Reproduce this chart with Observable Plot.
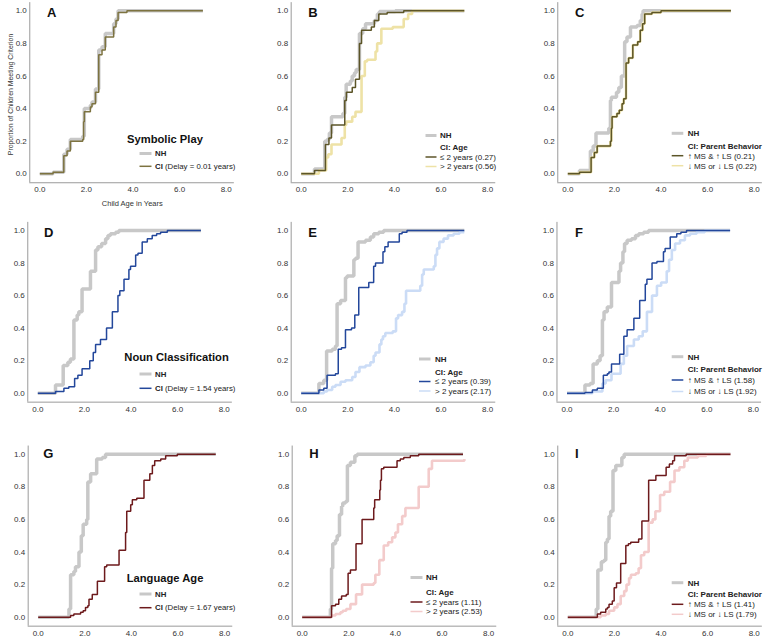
<!DOCTYPE html>
<html><head><meta charset="utf-8">
<script src="https://cdn.jsdelivr.net/npm/d3@7"></script>
<script src="https://cdn.jsdelivr.net/npm/@observablehq/plot@0.6"></script>
<style>
body{margin:0;background:#fff;}
#chart{position:relative;width:763px;height:637px;overflow:hidden;background:#fff;font-family:"Liberation Sans",Arial,sans-serif;}
#chart svg.panel{position:absolute;}
#overlay{position:absolute;left:0;top:0;pointer-events:none;}
</style></head><body><div id="chart"></div>
<script>
// ---------- data ----------
const xTicks = [0, 2, 4, 6, 8];
const yTicks = [0, 0.2, 0.4, 0.6, 0.8, 1.0];

const A_NH_x = [0, 0.57, 1.03, 1.17, 1.31, 1.84, 1.91, 2.17, 2.24, 2.39, 2.53, 2.67, 2.81, 3.17, 3.27, 3.36, 3.74, 7.0];
const A_NH_y = [0, 0.01, 0.12, 0.15, 0.21, 0.23, 0.40, 0.42, 0.44, 0.52, 0.76, 0.78, 0.86, 0.92, 0.95, 1.0, 1.0, 1.0];
const A_CI_x = [0, 0.57, 1.03, 1.17, 1.31, 1.84, 1.88, 1.91, 2.17, 2.24, 2.39, 2.53, 2.67, 2.81, 3.17, 3.27, 3.36, 3.74, 7.0];
const A_CI_y = [0, 0.01, 0.11, 0.14, 0.20, 0.21, 0.32, 0.38, 0.41, 0.43, 0.50, 0.73, 0.76, 0.84, 0.90, 0.94, 0.99, 1.0, 1.0];

const B_NH_x = [0, 0.57, 1.01, 1.11, 1.21, 1.30, 1.79, 1.87, 1.93, 2.11, 2.19, 2.29, 2.36, 2.50, 2.64, 2.76, 3.14, 3.27, 3.36, 4.04, 7.0];
const B_NH_y = [0, 0.03, 0.20, 0.21, 0.25, 0.35, 0.37, 0.47, 0.55, 0.57, 0.60, 0.62, 0.64, 0.86, 0.89, 0.92, 0.94, 0.98, 0.995, 1.0, 1.0];
const B_CI1_x = [0, 0.57, 1.04, 1.19, 1.30, 1.87, 1.94, 2.19, 2.33, 2.50, 2.59, 3.01, 3.14, 3.33, 3.69, 4.40, 7.0];
const B_CI1_y = [0, 0.02, 0.18, 0.22, 0.30, 0.45, 0.50, 0.53, 0.58, 0.80, 0.88, 0.90, 0.94, 0.98, 0.99, 1.0, 1.0];
const B_CI2_x = [0, 0.76, 1.07, 1.16, 1.30, 1.73, 1.87, 1.93, 2.19, 2.33, 2.59, 2.73, 2.83, 3.19, 3.26, 3.44, 3.93, 4.40, 4.59, 4.76, 7.0];
const B_CI2_y = [0, 0.02, 0.10, 0.12, 0.18, 0.22, 0.30, 0.32, 0.35, 0.38, 0.60, 0.69, 0.70, 0.75, 0.80, 0.89, 0.90, 0.95, 0.98, 1.0, 1.0];

const C_NH_x = [0, 0.50, 0.97, 1.09, 1.21, 1.76, 1.83, 1.87, 2.09, 2.19, 2.30, 2.44, 2.54, 2.69, 2.97, 3.11, 3.19, 3.23, 7.0];
const C_NH_y = [0, 0.02, 0.14, 0.17, 0.25, 0.28, 0.45, 0.47, 0.50, 0.53, 0.60, 0.81, 0.84, 0.90, 0.91, 0.94, 0.98, 1.0, 1.0];
const C_CI1_x = [0, 0.50, 1.00, 1.14, 1.26, 1.83, 1.87, 1.90, 2.11, 2.21, 2.33, 2.40, 2.50, 2.61, 2.79, 3.00, 3.11, 3.21, 3.30, 3.61, 4.00, 7.0];
const C_CI1_y = [0, 0.01, 0.10, 0.13, 0.17, 0.20, 0.28, 0.35, 0.37, 0.39, 0.43, 0.46, 0.68, 0.71, 0.79, 0.81, 0.88, 0.92, 0.98, 0.99, 1.0, 1.0];
const C_CI2_x = [0, 0.50, 1.00, 1.14, 1.26, 1.83, 1.87, 1.90, 2.11, 2.21, 2.33, 2.40, 2.50, 2.61, 2.79, 3.00, 3.11, 3.21, 3.30, 3.61, 4.00, 7.0];
const C_CI2_y = [0, 0.01, 0.10, 0.13, 0.17, 0.20, 0.28, 0.35, 0.37, 0.39, 0.43, 0.46, 0.68, 0.71, 0.79, 0.81, 0.88, 0.92, 0.98, 0.99, 1.0, 1.0];

const D_NH_x = [0, 0.76, 1.09, 1.29, 1.40, 1.55, 1.69, 1.76, 1.90, 2.26, 2.48, 2.58, 2.74, 2.91, 3.01, 3.12, 3.34, 3.48, 7.0];
const D_NH_y = [0, 0.05, 0.17, 0.19, 0.21, 0.45, 0.48, 0.50, 0.64, 0.75, 0.88, 0.90, 0.92, 0.95, 0.97, 0.98, 0.99, 1.0, 1.0];
const D_CI_x = [0, 0.76, 1.12, 1.33, 1.58, 1.72, 1.90, 2.23, 2.38, 2.48, 2.69, 2.95, 3.20, 3.44, 3.52, 3.70, 3.91, 3.98, 4.20, 4.30, 4.48, 4.70, 4.91, 5.10, 5.27, 5.56, 7.0];
const D_CI_y = [0, 0.01, 0.03, 0.04, 0.09, 0.11, 0.15, 0.20, 0.25, 0.30, 0.33, 0.40, 0.50, 0.60, 0.63, 0.70, 0.76, 0.78, 0.85, 0.86, 0.93, 0.95, 0.97, 0.98, 0.99, 1.0, 1.0];

const E_NH_x = [0, 0.76, 0.97, 1.09, 1.33, 1.47, 1.54, 1.69, 1.90, 1.97, 2.26, 2.33, 2.44, 2.76, 2.97, 3.11, 3.33, 3.54, 7.0];
const E_NH_y = [0, 0.06, 0.08, 0.26, 0.27, 0.29, 0.55, 0.57, 0.71, 0.72, 0.82, 0.83, 0.93, 0.94, 0.96, 0.98, 0.99, 1.0, 1.0];
const E_CI1_x = [0, 0.76, 0.97, 1.11, 1.47, 1.59, 1.73, 1.90, 2.16, 2.30, 2.47, 2.90, 3.11, 3.19, 3.51, 3.59, 3.73, 4.21, 4.33, 4.54, 7.0];
const E_CI1_y = [0, 0.02, 0.03, 0.11, 0.12, 0.27, 0.28, 0.39, 0.40, 0.48, 0.65, 0.68, 0.78, 0.80, 0.87, 0.90, 0.93, 0.98, 0.99, 1.0, 1.0];
const E_CI2_x = [0, 0.97, 1.11, 1.33, 1.47, 1.69, 1.90, 2.19, 2.33, 2.50, 2.76, 2.97, 3.11, 3.19, 3.36, 3.44, 3.51, 3.61, 3.93, 4.07, 4.16, 4.33, 4.43, 4.50, 5.11, 5.19, 5.26, 5.69, 5.76, 5.83, 5.93, 6.11, 6.30, 6.54, 6.79, 7.0];
const E_CI2_y = [0, 0.01, 0.02, 0.04, 0.05, 0.07, 0.08, 0.10, 0.13, 0.16, 0.17, 0.19, 0.23, 0.25, 0.30, 0.33, 0.35, 0.37, 0.38, 0.46, 0.48, 0.50, 0.55, 0.63, 0.66, 0.73, 0.76, 0.78, 0.85, 0.89, 0.93, 0.95, 0.97, 0.98, 0.99, 0.99];

const F_NH_x = [0, 0.77, 0.99, 1.12, 1.30, 1.42, 1.52, 1.59, 1.73, 1.91, 2.23, 2.30, 2.40, 2.47, 2.58, 2.77, 2.94, 3.08, 3.29, 3.50, 7.0];
const F_NH_y = [0, 0.05, 0.06, 0.18, 0.20, 0.23, 0.45, 0.50, 0.53, 0.68, 0.75, 0.80, 0.87, 0.92, 0.94, 0.95, 0.97, 0.98, 0.99, 1.0, 1.0];
const F_CI1_x = [0, 0.77, 1.09, 1.30, 1.56, 1.73, 1.80, 1.91, 2.26, 2.44, 2.58, 2.87, 3.12, 3.36, 3.43, 3.65, 3.86, 4.14, 4.21, 4.43, 4.71, 4.89, 5.13, 7.0];
const F_CI1_y = [0, 0.005, 0.02, 0.03, 0.11, 0.12, 0.13, 0.18, 0.24, 0.35, 0.39, 0.46, 0.57, 0.67, 0.70, 0.80, 0.81, 0.87, 0.89, 0.96, 0.98, 0.99, 1.0, 1.0];
const F_CI2_x = [0, 1.09, 1.52, 1.66, 1.91, 2.30, 2.44, 2.58, 2.87, 3.08, 3.25, 3.43, 3.65, 3.86, 4.04, 4.28, 4.38, 4.50, 4.64, 4.85, 5.06, 5.28, 5.56, 5.91, 7.0];
const F_CI2_y = [0, 0.01, 0.06, 0.08, 0.12, 0.18, 0.23, 0.29, 0.33, 0.35, 0.38, 0.50, 0.60, 0.66, 0.68, 0.75, 0.82, 0.88, 0.92, 0.94, 0.97, 0.98, 0.99, 1.0, 1.0];

const G_NH_x = [0, 1.32, 1.39, 1.53, 1.60, 1.75, 1.85, 1.93, 2.08, 2.13, 2.25, 2.51, 2.75, 2.89, 7.62];
const G_NH_y = [0, 0.05, 0.26, 0.28, 0.31, 0.40, 0.50, 0.57, 0.60, 0.83, 0.88, 0.97, 0.98, 1.0, 1.0];
const G_CI_x = [0, 1.39, 1.53, 1.82, 1.93, 2.03, 2.13, 2.18, 2.32, 2.54, 2.85, 2.94, 3.47, 3.75, 3.80, 3.97, 4.04, 4.23, 4.54, 4.79, 4.90, 5.00, 5.26, 5.47, 5.97, 7.62];
const G_CI_y = [0, 0.01, 0.02, 0.03, 0.04, 0.06, 0.07, 0.11, 0.14, 0.22, 0.31, 0.32, 0.41, 0.52, 0.65, 0.69, 0.72, 0.73, 0.84, 0.88, 0.93, 0.96, 0.97, 0.99, 1.0, 1.0];

const H_NH_x = [0, 1.21, 1.26, 1.31, 1.43, 1.50, 1.60, 1.69, 1.74, 1.86, 1.94, 2.07, 2.26, 2.36, 6.9];
const H_NH_y = [0, 0.05, 0.30, 0.45, 0.47, 0.50, 0.63, 0.68, 0.70, 0.71, 0.93, 0.95, 0.99, 1.0, 1.0];
const H_CI1_x = [0, 1.26, 1.43, 1.57, 1.69, 1.89, 1.97, 2.07, 2.31, 2.57, 3.07, 3.11, 3.33, 3.36, 3.40, 3.50, 4.07, 4.21, 4.36, 4.64, 5.00, 6.9];
const H_CI1_y = [0, 0.07, 0.08, 0.11, 0.13, 0.14, 0.27, 0.29, 0.45, 0.60, 0.67, 0.72, 0.78, 0.84, 0.91, 0.92, 0.96, 0.97, 0.98, 0.99, 1.0, 1.0];
const H_CI2_x = [0, 1.26, 1.43, 1.64, 1.74, 1.89, 2.07, 2.31, 2.57, 3.07, 3.14, 3.31, 3.50, 3.69, 3.86, 4.00, 4.11, 4.29, 4.43, 5.00, 5.43, 5.57, 6.96];
const H_CI2_y = [0, 0.01, 0.02, 0.03, 0.04, 0.05, 0.08, 0.14, 0.20, 0.21, 0.26, 0.35, 0.44, 0.46, 0.49, 0.52, 0.57, 0.62, 0.67, 0.80, 0.91, 0.96, 0.97];

const I_NH_x = [0, 1.22, 1.29, 1.44, 1.55, 1.63, 1.70, 1.77, 1.84, 1.94, 2.06, 2.32, 2.42, 6.98];
const I_NH_y = [0, 0.05, 0.29, 0.34, 0.35, 0.46, 0.48, 0.62, 0.65, 0.90, 0.93, 0.98, 1.0, 1.0];
const I_CI1_x = [0, 1.27, 1.41, 1.63, 1.70, 1.77, 1.91, 1.99, 2.09, 2.27, 2.49, 2.60, 2.70, 3.04, 3.18, 3.47, 3.78, 4.22, 4.36, 4.50, 4.58, 5.08, 6.98];
const I_CI1_y = [0, 0.02, 0.03, 0.05, 0.06, 0.08, 0.10, 0.18, 0.21, 0.33, 0.44, 0.45, 0.46, 0.48, 0.59, 0.84, 0.87, 0.92, 0.94, 0.96, 0.99, 1.0, 1.0];
const I_CI2_x = [0, 1.41, 1.63, 1.77, 1.99, 2.13, 2.27, 2.42, 2.52, 2.63, 2.71, 2.92, 3.04, 3.14, 3.28, 3.47, 3.64, 3.76, 3.96, 4.14, 4.39, 4.58, 4.79, 5.00, 5.15, 5.58, 5.94, 6.98];
const I_CI2_y = [0, 0.01, 0.02, 0.04, 0.06, 0.08, 0.13, 0.16, 0.20, 0.24, 0.26, 0.27, 0.30, 0.38, 0.40, 0.58, 0.60, 0.65, 0.75, 0.77, 0.83, 0.90, 0.92, 0.96, 0.98, 0.99, 1.0, 1.0];

// text content
const panelLetters = ["A","B","C","D","E","F","G","H","I"];
const domainTitles = ["Symbolic Play", "Noun Classification", "Language Age"];
const delayLabels = ["(Delay = 0.01 years)", "(Delay = 1.54 years)", "(Delay = 1.67 years)"];
const ageLabels = [["≤ 2 years (0.27)", "> 2 years (0.56)"], ["≤ 2 years (0.39)", "> 2 years (2.17)"], ["≤ 2 years (1.11)", "> 2 years (2.53)"]];
const parentLabels = [["↑ MS &  ↑ LS (0.21)", "↓ MS or ↓ LS  (0.22)"], ["↑ MS &  ↑ LS (1.58)", "↓ MS or ↓ LS (1.92)"], ["↑ MS &  ↑ LS (1.41)", "↓ MS or ↓ LS (1.79)"]];
const yTitle = "Proportion of Children Meeting Criterion";
const xTitle = "Child Age in Years";

// ---------- styles ----------
const GRAY = "#c8c8c8";
const DARK = ["#7d7340", "#23479b", "#6d1a1c"];   // main CI colour per row
const DARK2 = ["#5c5528", "#23479b", "#6d1a1c"];  // ≤2 / ↑ colour
const LIGHT = ["#eee2a6", "#cbdcf6", "#f3cbcb"];
const W_NH = 3.5, W_DARK = 1.5, W_LIGHT = 2.6;

const cols = [{left: 0, width: 255}, {left: 255, width: 250}, {left: 505, width: 258}];
const rows = [{top: 0, height: 210, y1: 10.3, y0: 173.3}, {top: 210, height: 210, y1: 230, y0: 392.7}, {top: 420, height: 217, y1: 453.7, y0: 616.7}];
const x0px = [[39.3, 300.7, 567.3], [37.3, 300.7, 566.5], [37.7, 301.7, 567.3]];
const U = 23.3;
const XD = [-0.43, 8.35], YD = [-0.055, 1.05];

const series = [
  [[[A_NH_x, A_NH_y, GRAY, W_NH], [A_CI_x, A_CI_y, DARK[0], W_DARK]],
   [[B_NH_x, B_NH_y, GRAY, W_NH], [B_CI2_x, B_CI2_y, LIGHT[0], W_LIGHT], [B_CI1_x, B_CI1_y, DARK2[0], W_DARK]],
   [[C_NH_x, C_NH_y, GRAY, W_NH], [C_CI2_x, C_CI2_y, LIGHT[0], W_LIGHT], [C_CI1_x, C_CI1_y, DARK2[0], W_DARK]]],
  [[[D_NH_x, D_NH_y, GRAY, W_NH], [D_CI_x, D_CI_y, DARK[1], W_DARK]],
   [[E_NH_x, E_NH_y, GRAY, W_NH], [E_CI2_x, E_CI2_y, LIGHT[1], W_LIGHT], [E_CI1_x, E_CI1_y, DARK2[1], W_DARK]],
   [[F_NH_x, F_NH_y, GRAY, W_NH], [F_CI2_x, F_CI2_y, LIGHT[1], W_LIGHT], [F_CI1_x, F_CI1_y, DARK2[1], W_DARK]]],
  [[[G_NH_x, G_NH_y, GRAY, W_NH], [G_CI_x, G_CI_y, DARK[2], W_DARK]],
   [[H_NH_x, H_NH_y, GRAY, W_NH], [H_CI2_x, H_CI2_y, LIGHT[2], W_LIGHT], [H_CI1_x, H_CI1_y, DARK2[2], W_DARK]],
   [[I_NH_x, I_NH_y, GRAY, W_NH], [I_CI2_x, I_CI2_y, LIGHT[2], W_LIGHT], [I_CI1_x, I_CI1_y, DARK2[2], W_DARK]]]
];

const chart = document.getElementById("chart");
const fmt = d3.format(".1f");

for (let r = 0; r < 3; r++) {
  for (let c = 0; c < 3; c++) {
    const col = cols[c], row = rows[r];
    const ml = x0px[r][c] + XD[0] * U - col.left;
    const mr = col.width - ml - (XD[1] - XD[0]) * U;
    const k = row.y0 - row.y1;
    const yTop = row.y1 - (YD[1] - 1) * k, yBot = row.y0 - YD[0] * k;
    const mt = yTop - row.top, mb = row.height - (yBot - row.top);
    const marks = [
      Plot.ruleX([XD[0]], {stroke: "#9a9a9a", strokeWidth: 1}),
      Plot.ruleY([YD[0]], {stroke: "#9a9a9a", strokeWidth: 1}),
      Plot.axisX(xTicks, {tickSize: 0, tickPadding: 4, tickFormat: fmt, label: null, fontSize: 8, fill: "#333"}),
      Plot.axisY(yTicks, {tickSize: 0, tickPadding: 3, tickFormat: fmt, label: null, fontSize: 8, fill: "#333"})
    ];
    for (const [xs, ys, color, w] of series[r][c]) {
      const data = xs.map((x, i) => ({x, y: ys[i]}));
      marks.push(Plot.line(data, {x: "x", y: "y", curve: "step-after", stroke: color, strokeWidth: w, strokeLinejoin: "miter", strokeLinecap: "butt"}));
    }
    const svg = Plot.plot({
      width: col.width, height: row.height,
      marginLeft: ml, marginRight: mr, marginTop: mt, marginBottom: mb,
      x: {domain: XD}, y: {domain: YD},
      style: {fontFamily: "'Liberation Sans', Arial, sans-serif", fontSize: "8px", background: "transparent", overflow: "visible"},
      marks
    });
    svg.classList.add("panel");
    svg.style.left = col.left + "px";
    svg.style.top = row.top + "px";
    chart.appendChild(svg);
  }
}

// ---------- overlay: panel letters, titles, legends ----------
const ov = d3.select(chart).append("svg").attr("id", "overlay").attr("width", 763).attr("height", 637)
  .style("font-family", "'Liberation Sans', Arial, sans-serif");
const TXT = "#222";

const letterPos = [[47, 17.3], [308.3, 17.3], [575, 17.3], [44, 237.3], [308.3, 237.3], [575, 237], [43.3, 457.7], [309.3, 457.7], [575, 457.7]];
panelLetters.forEach((L, i) => {
  ov.append("text").attr("x", letterPos[i][0]).attr("y", letterPos[i][1]).attr("font-size", 13).attr("font-weight", "bold").attr("fill", "#111").text(L);
});

// axis titles (panel A only)
ov.append("text").attr("transform", "translate(12.5,94.5) rotate(-90)").attr("text-anchor", "middle").attr("font-size", 6.9).attr("fill", "#333").text(yTitle);
ov.append("text").attr("x", 132.3).attr("y", 206).attr("text-anchor", "middle").attr("font-size", 7.5).attr("fill", "#333").text(xTitle);

function legLine(x1, x2, y, color, w) {
  ov.append("line").attr("x1", x1).attr("x2", x2).attr("y1", y).attr("y2", y).attr("stroke", color).attr("stroke-width", w);
}
function legText(x, y, parts, size) {
  const t = ov.append("text").attr("x", x).attr("y", y + size * 0.35).attr("font-size", size).attr("fill", TXT);
  for (const [s, bold] of parts) t.append("tspan").attr("font-weight", bold ? "bold" : "normal").text(s);
}

// column 1 legends
const col1 = [{title: [127, 143.3], nh: 153.5, ci: 166.3}, {title: [124.3, 360.7], nh: 374, ci: 388.3}, {title: [126.7, 581.7], nh: 594, ci: 607.7}];
col1.forEach((L, r) => {
  ov.append("text").attr("x", L.title[0]).attr("y", L.title[1]).attr("font-size", 11.2).attr("font-weight", "bold").attr("fill", "#111").text(domainTitles[r]);
  legLine(139.5, 151.5, L.nh, GRAY, 3);
  legText(155, L.nh, [["NH", true]], 7.8);
  legLine(139.5, 151.5, L.ci, DARK[r], 1.5);
  legText(155, L.ci, [["CI", true], [" " + delayLabels[r], false]], 7.8);
});

// columns 2 and 3 legends
const col2 = [{x1: 425.5, x2: 436.5, tx: 440, ys: [135.5, 147.5, 157, 166.5]},
              {x1: 419, x2: 430.5, tx: 435, ys: [359, 372, 381.5, 391]},
              {x1: 410.5, x2: 422.5, tx: 426, ys: [577.5, 592, 602, 611.5]}];
const col3 = [{ys: [133.3, 146, 155.7, 165.7]}, {ys: [356.7, 369, 380, 391.5]}, {ys: [582.7, 594.3, 604.3, 614.3]}];
col2.forEach((L, r) => {
  legLine(L.x1, L.x2, L.ys[0], GRAY, 3);
  legText(L.tx, L.ys[0], [["NH", true]], 8);
  legText(L.tx, L.ys[1], [["CI: Age", true]], 8);
  legLine(L.x1, L.x2, L.ys[2], DARK2[r], 1.5);
  legText(L.tx, L.ys[2], [[ageLabels[r][0], false]], 8);
  legLine(L.x1, L.x2, L.ys[3], LIGHT[r], 1.5);
  legText(L.tx, L.ys[3], [[ageLabels[r][1], false]], 8);
});
col3.forEach((L, r) => {
  const x1 = 671.7, x2 = 683.3, tx = 687.7;
  legLine(x1, x2, L.ys[0], GRAY, 3);
  legText(tx, L.ys[0], [["NH", true]], 8);
  legText(tx, L.ys[1], [["CI: Parent Behavior", true]], 8);
  legLine(x1, x2, L.ys[2], DARK2[r], 1.5);
  legText(tx, L.ys[2], [[parentLabels[r][0], false]], 8);
  legLine(x1, x2, L.ys[3], LIGHT[r], 1.5);
  legText(tx, L.ys[3], [[parentLabels[r][1], false]], 8);
});
</script></body></html>
